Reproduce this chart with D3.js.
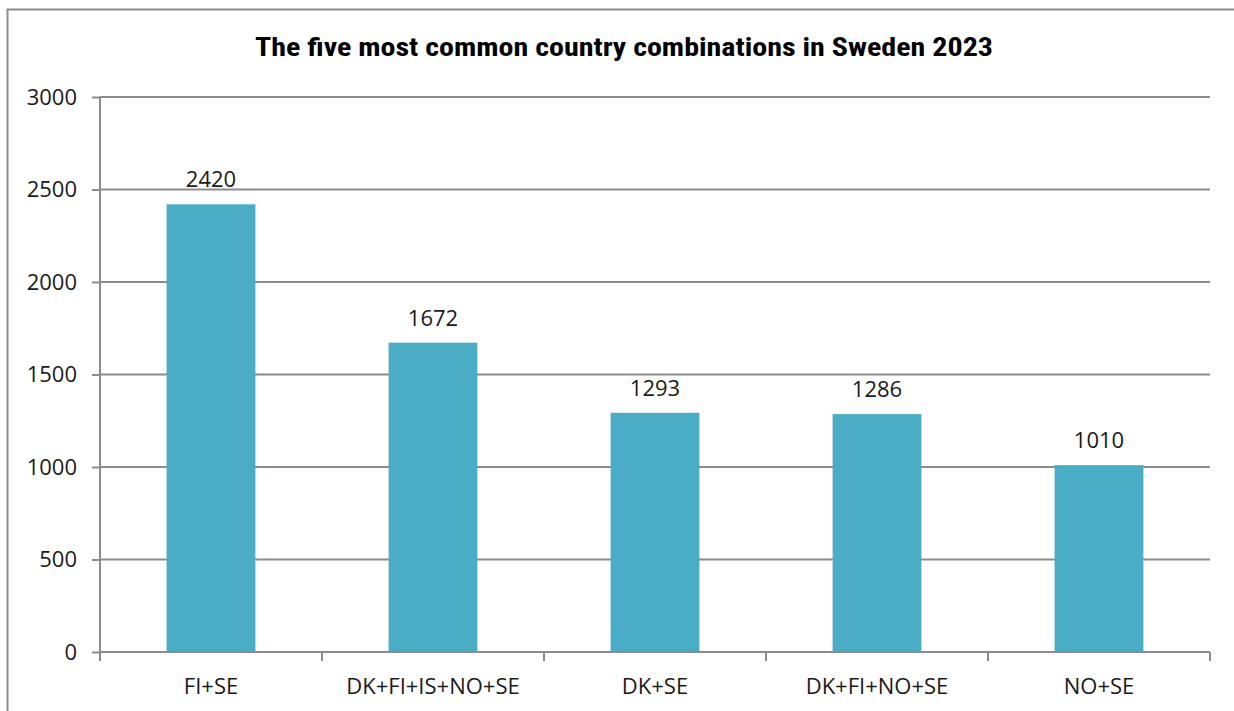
<!DOCTYPE html>
<html>
<head>
<meta charset="utf-8">
<script src="https://cdn.jsdelivr.net/npm/d3@7"></script>
<style>
  body { margin: 0; background: #fff; }
  svg { display: block; }
</style>
</head>
<body>
<div id="chart"></div>
<script>
var categories = ["FI+SE", "DK+FI+IS+NO+SE", "DK+SE", "DK+FI+NO+SE", "NO+SE"];
var values = [2420, 1672, 1293, 1286, 1010];
var yTicks = [0, 500, 1000, 1500, 2000, 2500, 3000];
var title = "The five most common country combinations in Sweden 2023";

var width = 1234, height = 711;
var margin = { left: 100, right: 24, top: 97, bottom: 59 };
var labelFont = "'Open Sans', sans-serif";

var svg = d3.select("#chart").append("svg")
    .attr("width", width)
    .attr("height", height);

// outer frame (clipped on right and bottom like the source)
svg.append("rect")
    .attr("x", 7.5).attr("y", 9.5)
    .attr("width", 1240).attr("height", 720)
    .attr("fill", "none")
    .attr("stroke", "#8c8c8c")
    .attr("stroke-width", 2);

svg.append("text")
    .attr("x", 624).attr("y", 56)
    .attr("text-anchor", "middle")
    .attr("font-family", "'Liberation Sans Narrow', 'Roboto Condensed', 'Liberation Sans', sans-serif")
    .attr("font-weight", "bold")
    .attr("font-size", 25)
    .attr("textLength", 738)
    .attr("lengthAdjust", "spacingAndGlyphs")
    .attr("fill", "#000")
    .text(title);

var x = d3.scaleBand()
    .domain(categories)
    .range([margin.left, width - margin.right])
    .paddingInner(0.6)
    .paddingOuter(0.3);

var y = d3.scaleLinear()
    .domain([0, 3000])
    .range([height - margin.bottom, margin.top]);

// gridlines
svg.append("g")
    .selectAll("line")
    .data(yTicks.filter(function (d) { return d > 0; }))
    .enter().append("line")
    .attr("x1", margin.left).attr("x2", width - margin.right)
    .attr("y1", function (d) { return y(d); })
    .attr("y2", function (d) { return y(d); })
    .attr("stroke", "#8c8c8c")
    .attr("stroke-width", 2);

// bars
svg.append("g")
    .selectAll("rect")
    .data(values)
    .enter().append("rect")
    .attr("x", function (d, i) { return x(categories[i]); })
    .attr("y", function (d) { return y(d); })
    .attr("width", x.bandwidth())
    .attr("height", function (d) { return y(0) - y(d); })
    .attr("fill", "#4bacc6");

// value labels
svg.append("g")
    .selectAll("text")
    .data(values)
    .enter().append("text")
    .attr("x", function (d, i) { return x(categories[i]) + x.bandwidth() / 2; })
    .attr("y", function (d) { return y(d) - 17; })
    .attr("text-anchor", "middle")
    .attr("font-family", labelFont)
    .attr("font-size", 22)
    .attr("fill", "#1a1a1a")
    .text(function (d) { return d; });

// y axis
var yAxis = svg.append("g")
    .attr("transform", "translate(" + margin.left + ",0)")
    .call(d3.axisLeft(y).tickValues(yTicks).tickSize(8).tickPadding(15).tickFormat(d3.format("d")));
yAxis.select(".domain").attr("stroke", "#8c8c8c").attr("stroke-width", 2)
    .attr("d", "M0," + y(3000) + "V" + y(0));
yAxis.selectAll(".tick line").attr("stroke", "#8c8c8c").attr("stroke-width", 2);
yAxis.selectAll(".tick text")
    .attr("font-family", labelFont)
    .attr("font-size", 22)
    .attr("fill", "#1a1a1a");

// x axis: category line with boundary ticks
var xg = svg.append("g").attr("transform", "translate(0," + y(0) + ")");
xg.append("line")
    .attr("x1", margin.left).attr("x2", width - margin.right)
    .attr("stroke", "#8c8c8c").attr("stroke-width", 2);
var bounds = d3.range(categories.length + 1).map(function (i) {
    return margin.left + i * (width - margin.left - margin.right) / categories.length;
});
xg.selectAll(".bt")
    .data(bounds)
    .enter().append("line")
    .attr("x1", function (d) { return d; }).attr("x2", function (d) { return d; })
    .attr("y1", 0).attr("y2", 9)
    .attr("stroke", "#8c8c8c").attr("stroke-width", 2);
xg.selectAll(".lbl")
    .data(categories)
    .enter().append("text")
    .attr("x", function (d) { return x(d) + x.bandwidth() / 2; })
    .attr("y", 42)
    .attr("text-anchor", "middle")
    .attr("font-family", labelFont)
    .attr("font-size", 22)
    .attr("fill", "#1a1a1a")
    .text(function (d) { return d; });
</script>
</body>
</html>
